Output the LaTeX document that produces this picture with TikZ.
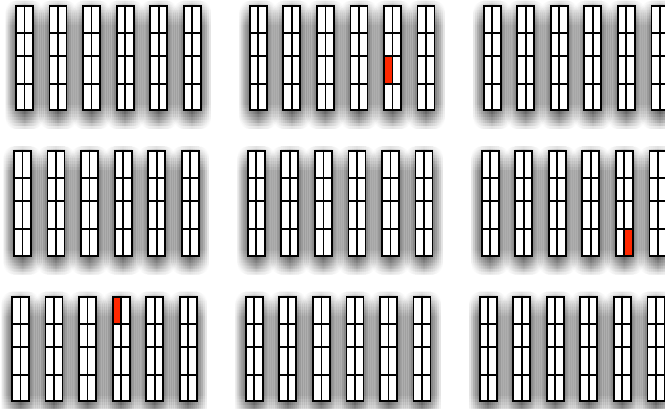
\documentclass[tikz,border=0pt]{standalone}
\definecolor{cellred}{RGB}{255,40,0}
\tikzset{
  colbox/.style={line width=1.8pt, draw=black},
  shadowlayer/.style={fill=black, opacity=0.011},
}
\begin{document}
\begin{tikzpicture}[x=1pt,y=-1pt]
\useasboundingbox (0,0) rectangle (665,409);
\clip (0,0) rectangle (665,409);
\fill[white] (0,0) rectangle (665,409);
% shadows (separable approximation of a blur)
\foreach \r in {0,1,2}{
 \foreach \g in {0,1,2}{
  \foreach \c in {0,...,5}{
    \pgfmathsetmacro\X{16+233.85*\g-2*\r+33.54*\c}
    \pgfmathsetmacro\Y{5.7+145.5*\r+7}
    \foreach \eh in {-7.5,-5.5,-3.5,-1.5,0.5,2.5,4.5,6.5,8.5,10.5}{
      \foreach \ev in {-12,-9,-6,-3,0,3,6,9,12}{
        \pgfmathsetmacro\R{max(0.5,min(\eh,\ev))}
        \fill[shadowlayer, rounded corners=\R pt]
          ({\X-(\eh)},{\Y-(\ev)}) rectangle ({\X+17+\eh},{\Y+104.5+\ev});
      }
    }
  }}}
% column backgrounds
\foreach \r in {0,1,2}{
 \foreach \g in {0,1,2}{
  \foreach \c in {0,...,5}{
    \pgfmathsetmacro\X{16+233.85*\g-2*\r+33.54*\c}
    \pgfmathsetmacro\Y{5.7+145.5*\r}
    \fill[white] (\X,\Y) rectangle ({\X+17},{\Y+104.5});
  }}}
% red cells
\foreach \r/\g/\c/\h/\k in {0/1/4/0/2, 2/0/3/0/0, 1/2/4/1/3}{
  \pgfmathsetmacro\X{16+233.85*\g-2*\r+33.54*\c}
  \pgfmathsetmacro\Y{5.7+145.5*\r}
  \pgfmathsetmacro\ya{{0,27,50,78,104.5}[\k]}
  \pgfmathsetmacro\yb{{0,27,50,78,104.5}[\k+1]}
  \fill[cellred] ({\X+8.5*\h},{\Y+\ya}) rectangle ({\X+8.5*\h+8.5},{\Y+\yb});
}
% columns
\foreach \r in {0,1,2}{
 \foreach \g in {0,1,2}{
  \foreach \c in {0,...,5}{
    \pgfmathsetmacro\X{16+233.85*\g-2*\r+33.54*\c}
    \pgfmathsetmacro\Y{5.7+145.5*\r}
    \draw[colbox] (\X,\Y) rectangle ({\X+17},{\Y+104.5});
    \draw[colbox] ({\X+8.5},\Y) -- ({\X+8.5},{\Y+104.5});
    \foreach \yy in {27,50,78}{
      \draw[colbox] (\X,{\Y+\yy}) -- ({\X+17},{\Y+\yy});
    }
  }}}
\end{tikzpicture}
\end{document}
